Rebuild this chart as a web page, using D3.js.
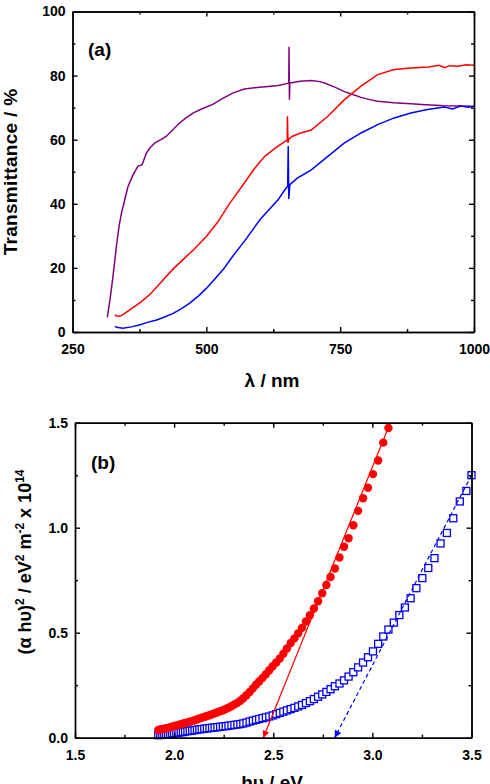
<!DOCTYPE html>
<html>
<head>
<meta charset="utf-8">
<script src="https://cdn.jsdelivr.net/npm/d3@7"></script>
<style>
  body { margin: 0; background: #fff; }
  svg text { font-family: "Liberation Sans", Arial, sans-serif; font-weight: bold; }
  .axis path, .axis line { stroke: #000; stroke-width: 1.4; }
  .axis text { font-size: 14px; fill: #000; }
</style>
</head>
<body>
<div id="chart"></div>
<script>

// ---- DATA: panel (a) transmittance spectra ----
const lambdaPurple = [315, 320, 325, 332, 337, 341.5, 347.5, 353.7, 363, 372, 380, 388, 395, 404, 415, 425, 437, 450, 462, 475, 490, 512, 530, 550, 571, 590, 610, 634, 650, 654, 654.5, 655.2, 656, 660, 675, 696, 710, 721, 740, 758, 775, 789, 805, 820, 850, 882, 910, 945, 970, 1000];
const tPurple = [4.6, 10, 16.5, 26.7, 33, 37.1, 41.2, 45.4, 49, 51.7, 52.2, 55.8, 57.5, 59, 60, 61, 63, 65.2, 66.8, 68.3, 69.5, 71, 72.8, 74.6, 75.8, 76.2, 76.5, 76.9, 77.5, 77.7, 89, 72.5, 77.8, 77.8, 78.2, 78.5, 78.2, 77.7, 76.4, 75, 74, 73.2, 72.5, 72, 71.5, 71.2, 70.9, 70.6, 70.5, 70.4];

const lambdaRed = [329, 333, 338, 345, 357, 375, 394, 410, 425, 440, 456, 478, 500, 520, 543, 571, 590, 609, 630, 650, 651, 651.5, 652.5, 654, 660, 675, 696, 727, 758, 789, 820, 851, 882, 915, 935, 945, 955, 970, 985, 1000];
const tRed = [5.3, 5.0, 4.9, 5.5, 6.9, 9, 11.6, 14.5, 17.3, 20, 22.5, 26, 29.8, 34, 40, 46.5, 51, 54.8, 57.5, 59.8, 60, 67.3, 59, 60.2, 61, 62, 63, 67.3, 72.5, 76.7, 80.3, 81.9, 82.4, 82.7, 83.2, 82.5, 83.1, 82.9, 83.4, 83.2];

const lambdaBlue = [329, 335, 344, 360, 375, 390, 407, 422, 438, 453, 469, 485, 500, 515, 531, 550, 572, 600, 634, 645, 652, 653, 654, 656, 670, 696, 727, 758, 789, 820, 851, 882, 913, 945, 960, 975, 990, 1000];
const tBlue = [1.7, 1.4, 1.2, 1.6, 2.2, 3, 3.75, 4.7, 5.8, 7.2, 9, 11.2, 13.6, 16.4, 19.4, 23.8, 28.5, 35, 41.25, 44, 45.5, 58, 41.5, 46, 48, 50.6, 54.8, 59, 62.1, 64.7, 66.8, 68.3, 69.4, 70.2, 69.6, 70.5, 70.1, 70.4];

// ---- DATA: panel (b) Tauc plot ----
const hvRed = [1.920, 1.930, 1.940, 1.950, 1.960, 1.970, 1.980, 1.990, 2.000, 2.011, 2.022, 2.033, 2.044, 2.055, 2.067, 2.079, 2.091, 2.103, 2.115, 2.127, 2.139, 2.152, 2.165, 2.178, 2.191, 2.204, 2.218, 2.232, 2.246, 2.260, 2.274, 2.289, 2.304, 2.319, 2.334, 2.349, 2.365, 2.381, 2.397, 2.413, 2.429, 2.446, 2.463, 2.480, 2.497, 2.515, 2.533, 2.551, 2.569, 2.588, 2.607, 2.626, 2.645, 2.665, 2.685, 2.705, 2.726, 2.747, 2.768, 2.789, 2.811, 2.834, 2.857, 2.880, 2.904, 2.928, 2.953, 2.978, 3.003, 3.029, 3.055, 3.081];
const ahvRed = [0.037, 0.039, 0.041, 0.043, 0.045, 0.047, 0.050, 0.052, 0.055, 0.058, 0.061, 0.064, 0.067, 0.070, 0.073, 0.076, 0.079, 0.083, 0.087, 0.091, 0.095, 0.099, 0.103, 0.107, 0.112, 0.116, 0.121, 0.126, 0.131, 0.137, 0.143, 0.150, 0.158, 0.166, 0.176, 0.188, 0.202, 0.218, 0.235, 0.252, 0.268, 0.285, 0.302, 0.321, 0.340, 0.358, 0.377, 0.400, 0.425, 0.451, 0.473, 0.497, 0.523, 0.553, 0.583, 0.615, 0.650, 0.688, 0.727, 0.765, 0.806, 0.858, 0.909, 0.950, 1.012, 1.080, 1.140, 1.190, 1.255, 1.320, 1.405, 1.475];

const hvBlue = [1.920, 1.930, 1.940, 1.950, 1.960, 1.970, 1.980, 1.990, 2.000, 2.011, 2.022, 2.033, 2.044, 2.055, 2.067, 2.079, 2.091, 2.103, 2.115, 2.127, 2.139, 2.152, 2.165, 2.178, 2.191, 2.204, 2.218, 2.232, 2.246, 2.260, 2.274, 2.289, 2.304, 2.319, 2.334, 2.349, 2.365, 2.381, 2.397, 2.413, 2.429, 2.446, 2.463, 2.480, 2.497, 2.515, 2.533, 2.551, 2.569, 2.588, 2.607, 2.626, 2.645, 2.665, 2.685, 2.705, 2.726, 2.747, 2.768, 2.789, 2.811, 2.834, 2.857, 2.880, 2.904, 2.928, 2.953, 2.978, 3.003, 3.029, 3.055, 3.081, 3.108, 3.136, 3.164, 3.193, 3.222, 3.252, 3.282, 3.313, 3.344, 3.376, 3.408, 3.441, 3.474, 3.500];
const ahvBlue = [0.012, 0.013, 0.014, 0.015, 0.016, 0.017, 0.018, 0.020, 0.021, 0.023, 0.024, 0.026, 0.027, 0.029, 0.031, 0.033, 0.034, 0.036, 0.038, 0.040, 0.041, 0.043, 0.044, 0.046, 0.047, 0.049, 0.050, 0.052, 0.054, 0.055, 0.057, 0.059, 0.061, 0.063, 0.065, 0.068, 0.072, 0.077, 0.081, 0.085, 0.089, 0.093, 0.097, 0.101, 0.106, 0.112, 0.118, 0.124, 0.130, 0.136, 0.142, 0.149, 0.156, 0.165, 0.174, 0.184, 0.195, 0.206, 0.218, 0.231, 0.245, 0.258, 0.273, 0.291, 0.312, 0.335, 0.358, 0.383, 0.411, 0.447, 0.482, 0.515, 0.548, 0.584, 0.620, 0.664, 0.712, 0.760, 0.808, 0.855, 0.925, 0.975, 1.045, 1.125, 1.175, 1.250];

// band-gap extrapolation lines: [top point, intercept]
const fitRedX = [3.09, 2.45];
const fitRedY = [1.5, 0];
const fitBlueX = [3.5, 2.81];
const fitBlueY = [1.25, 0];

// ticks
const ticksA_x = [250, 500, 750, 1000], minorA_x = [375, 625, 875];
const ticksA_y = [0, 20, 40, 60, 80, 100], minorA_y = [10, 30, 50, 70, 90];
const ticksB_x = [1.5, 2.0, 2.5, 3.0, 3.5], minorB_x = [1.75, 2.25, 2.75, 3.25];
const ticksB_y = [0, 0.5, 1.0, 1.5], minorB_y = [0.25, 0.75, 1.25];


let svg = d3.select("#chart").append("svg")
    .attr("width", 490)
    .attr("height", 784);

// draws a framed box with inward ticks on all four sides
function drawFrame(x, y, tx, mx, ty, my, fmtX, fmtY) {
    let [x0, x1] = x.range();
    let [y0, y1] = y.range();

    let g = svg.append("g");

    // bottom
    g.append("g").attr("class", "axis").attr("transform", "translate(0," + y0 + ")")
        .call(d3.axisBottom(x).tickValues(tx).tickSize(-5).tickSizeOuter(0).tickPadding(12).tickFormat(fmtX));
    g.append("g").attr("class", "axis").attr("transform", "translate(0," + y0 + ")")
        .call(d3.axisBottom(x).tickValues(mx).tickSize(-3).tickSizeOuter(0).tickFormat(""));
    // top
    g.append("g").attr("class", "axis").attr("transform", "translate(0," + y1 + ")")
        .call(d3.axisTop(x).tickValues(tx).tickSize(-5).tickSizeOuter(0).tickFormat(""));
    g.append("g").attr("class", "axis").attr("transform", "translate(0," + y1 + ")")
        .call(d3.axisTop(x).tickValues(mx).tickSize(-3).tickSizeOuter(0).tickFormat(""));
    // left
    g.append("g").attr("class", "axis").attr("transform", "translate(" + x0 + ",0)")
        .call(d3.axisLeft(y).tickValues(ty).tickSize(-5).tickSizeOuter(0).tickPadding(7).tickFormat(fmtY));
    g.append("g").attr("class", "axis").attr("transform", "translate(" + x0 + ",0)")
        .call(d3.axisLeft(y).tickValues(my).tickSize(-3).tickSizeOuter(0).tickFormat(""));
    // right
    g.append("g").attr("class", "axis").attr("transform", "translate(" + x1 + ",0)")
        .call(d3.axisRight(y).tickValues(ty).tickSize(-5).tickSizeOuter(0).tickFormat(""));
    g.append("g").attr("class", "axis").attr("transform", "translate(" + x1 + ",0)")
        .call(d3.axisRight(y).tickValues(my).tickSize(-3).tickSizeOuter(0).tickFormat(""));

    g.selectAll(".axis .domain").attr("stroke-width", 1.5);
    return g;
}

/* ---------- PANEL (a) ---------- */
let xA = d3.scaleLinear().domain([250, 1000]).range([72.5, 474]);
let yA = d3.scaleLinear().domain([0, 100]).range([332, 11.5]);

let lineA = d3.line().x(d => xA(d[0])).y(d => yA(d[1]));

const spectra = [
    {l: lambdaPurple, t: tPurple, color: "#800080"},
    {l: lambdaRed, t: tRed, color: "#ff0000"},
    {l: lambdaBlue, t: tBlue, color: "#0000ff"}
];

svg.selectAll(".spectrum")
    .data(spectra)
    .enter()
    .append("path")
    .attr("class", "spectrum")
    .attr("d", s => lineA(d3.zip(s.l, s.t)))
    .attr("fill", "none")
    .attr("stroke", s => s.color)
    .attr("stroke-width", 1.5);

drawFrame(xA, yA, ticksA_x, minorA_x, ticksA_y, minorA_y, d3.format("d"), d3.format("d"));

svg.append("text").attr("x", 88).attr("y", 56).attr("font-size", 19).text("(a)");

svg.append("text")
    .attr("x", 272).attr("y", 387)
    .attr("text-anchor", "middle")
    .attr("font-size", 19)
    .text("λ / nm");

svg.append("text")
    .attr("transform", "translate(17,172) rotate(-90)")
    .attr("text-anchor", "middle")
    .attr("font-size", 19)
    .attr("letter-spacing", 0.3)
    .text("Transmittance / %");

/* ---------- PANEL (b) ---------- */
let xB = d3.scaleLinear().domain([1.5, 3.5]).range([75, 471.5]);
let yB = d3.scaleLinear().domain([0, 1.5]).range([737.7, 422.7]);

// arrow markers
let defs = svg.append("defs");
[["arrRed", "#ff0000"], ["arrBlue", "#0000ff"]].forEach(([id, c]) => {
    defs.append("marker")
        .attr("id", id)
        .attr("viewBox", "0 0 10 10")
        .attr("refX", 10).attr("refY", 5)
        .attr("markerWidth", 9).attr("markerHeight", 7)
        .attr("markerUnits", "userSpaceOnUse")
        .attr("orient", "auto")
        .append("path")
        .attr("d", "M0,0L10,5L0,10Z")
        .attr("fill", c);
});

// blue open squares
svg.selectAll(".sq")
    .data(d3.zip(hvBlue, ahvBlue))
    .enter()
    .append("rect")
    .attr("class", "sq")
    .attr("x", d => xB(d[0]) - 3.5)
    .attr("y", d => yB(d[1]) - 3.5)
    .attr("width", 7)
    .attr("height", 7)
    .attr("fill", "#fff")
    .attr("stroke", "#0000ee")
    .attr("stroke-width", 1.3);

// red filled circles
svg.selectAll(".dot")
    .data(d3.zip(hvRed, ahvRed))
    .enter()
    .append("circle")
    .attr("class", "dot")
    .attr("cx", d => xB(d[0]))
    .attr("cy", d => yB(d[1]))
    .attr("r", 4.2)
    .attr("fill", "#ff0000");

let lineB = d3.line().x(d => xB(d[0])).y(d => yB(d[1]));

svg.append("path")
    .attr("d", lineB(d3.zip(fitRedX, fitRedY)))
    .attr("stroke", "#ff0000")
    .attr("stroke-width", 1.2)
    .attr("fill", "none")
    .attr("marker-end", "url(#arrRed)");

svg.append("path")
    .attr("d", lineB(d3.zip(fitBlueX, fitBlueY)))
    .attr("stroke", "#0000ff")
    .attr("stroke-width", 1.2)
    .attr("stroke-dasharray", "4,3")
    .attr("fill", "none")
    .attr("marker-end", "url(#arrBlue)");

drawFrame(xB, yB, ticksB_x, minorB_x, ticksB_y, minorB_y, d3.format(".1f"), d3.format(".1f"));

svg.append("text").attr("x", 91).attr("y", 469).attr("font-size", 19).text("(b)");

svg.append("text")
    .attr("x", 272).attr("y", 789)
    .attr("text-anchor", "middle")
    .attr("font-size", 19)
    .text("hυ / eV");

// y title with superscripts
let yt = svg.append("text")
    .attr("transform", "translate(31,562) rotate(-90)")
    .attr("text-anchor", "middle")
    .attr("font-size", 18);
const titleParts = [["(α hυ)", 0], ["2", 1], [" / eV", 0], ["2", 1], [" m", 0], ["-2", 1], [" x 10", 0], ["14", 1]];
let prevSup = 0;
titleParts.forEach(([txt, sup]) => {
    yt.append("tspan")
        .attr("dy", sup === prevSup ? 0 : (sup ? -7 : 7))
        .attr("font-size", sup ? 12 : 18)
        .text(txt);
    prevSup = sup;
});

</script>
</body>
</html>
